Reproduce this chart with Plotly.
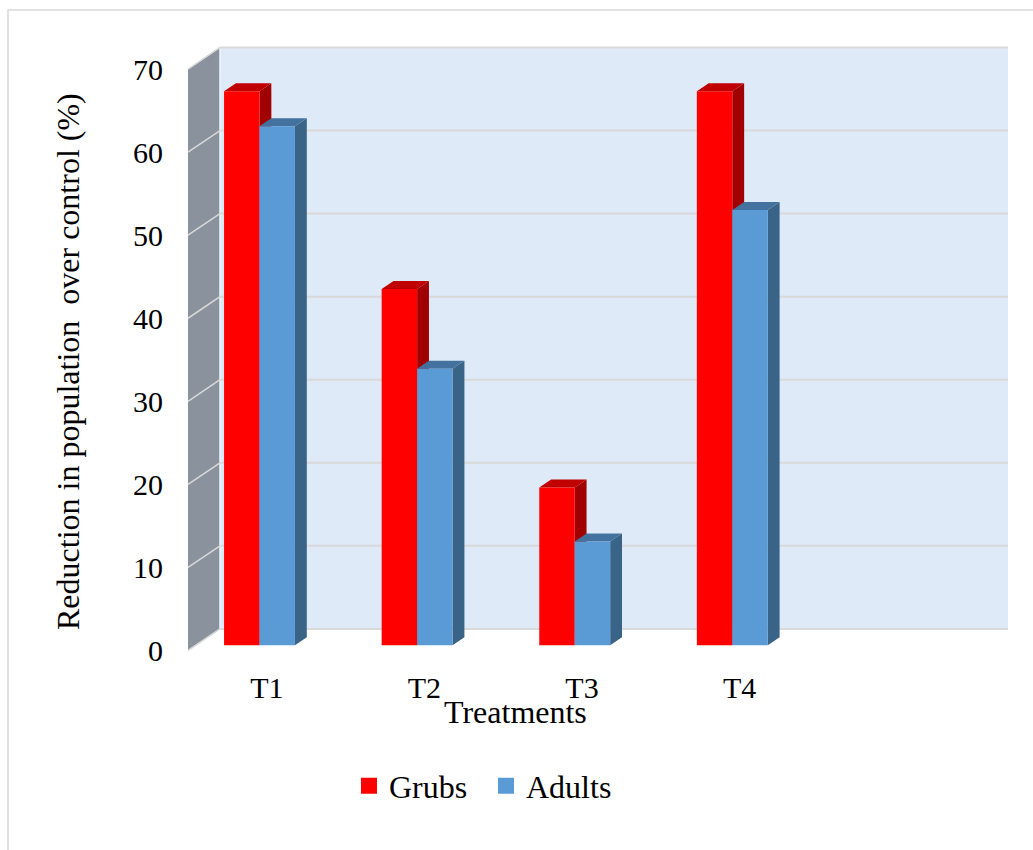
import plotly.graph_objects as go

# ---- data -------------------------------------------------------------
categories = ["T1", "T2", "T3", "T4"]
grubs = [66.7, 42.9, 19.0, 66.7]
adults = [62.5, 33.3, 12.5, 52.4]
y_ticks = [0, 10, 20, 30, 40, 50, 60, 70]

series = [
    ("Grubs", grubs, "#FF0000", "#C00000", "#A00000"),
    ("Adults", adults, "#5B9BD5", "#44729F", "#3A6388"),
]

# ---- pseudo-3D geometry (axis units) ----------------------------------
N_SLOTS = 5          # category slots along the floor (last one empty)
DX, DY = 0.203, 2.6  # wall depth offset (x in category units, y in value units)
D1, D2 = 0.24, 0.61  # front/back depth fraction of the bars
BAR_OFF, BAR_W = 0.18, 0.225
Y_TOP = 70

FONT = "Liberation Serif, Times New Roman, serif"
GRID = "#D9D9D9"

x_range = [0, N_SLOTS + DX]
y_range = [-0.3, Y_TOP + DY + 0.3]

W, H = 1033, 850
M_L, M_R = 188, 25
M_T, M_B = 45, 197

fig = go.Figure()

shapes = []
# side wall
shapes.append(dict(type="path", xref="x", yref="y", layer="below",
                   path=f"M 0,0 L {DX},{DY} L {DX},{Y_TOP + DY} L 0,{Y_TOP} Z",
                   fillcolor="#8A939D", line=dict(width=0)))
# back wall
shapes.append(dict(type="rect", xref="x", yref="y", layer="below",
                   x0=DX, x1=N_SLOTS + DX, y0=DY, y1=Y_TOP + DY,
                   fillcolor="#DEEAF7", line=dict(width=0)))
# wall edge between side and back wall
shapes.append(dict(type="line", xref="x", yref="y", layer="below",
                   x0=DX, x1=DX, y0=DY, y1=Y_TOP + DY,
                   line=dict(color="#EEF3FA", width=1.5)))
# gridlines on back wall and side wall
for v in y_ticks:
    shapes.append(dict(type="line", xref="x", yref="y", layer="below",
                       x0=DX, x1=N_SLOTS + DX, y0=v + DY, y1=v + DY,
                       line=dict(color=GRID, width=2)))
    shapes.append(dict(type="line", xref="x", yref="y", layer="below",
                       x0=0, x1=DX, y0=v, y1=v + DY,
                       line=dict(color=GRID, width=1.5)))

# bar side and top faces (front faces are the bar traces)
ddx, ddy = (D2 - D1) * DX, (D2 - D1) * DY
base = D1 * DY
for i in range(len(categories)):
    for s, (name, vals, c_front, c_top, c_side) in enumerate(series):
        xl = i + BAR_OFF + s * BAR_W + D1 * DX
        xr = xl + BAR_W
        top = base + vals[i]
        shapes.append(dict(type="path", xref="x", yref="y", layer="below",
                           path=(f"M {xr},{base} L {xr + ddx},{base + ddy} "
                                 f"L {xr + ddx},{top + ddy} L {xr},{top} Z"),
                           fillcolor=c_side, line=dict(width=0)))
        shapes.append(dict(type="path", xref="x", yref="y", layer="below",
                           path=(f"M {xl},{top} L {xr},{top} "
                                 f"L {xr + ddx},{top + ddy} L {xl + ddx},{top + ddy} Z"),
                           fillcolor=c_top, line=dict(width=0)))

# outer chart border
plot_w = W - M_L - M_R
plot_h = H - M_T - M_B
def px_x(p):
    return (p - M_L) / plot_w
def px_y(p):
    return (H - M_B - p) / plot_h

shapes.append(dict(type="rect", xref="paper", yref="paper", layer="below",
                   x0=px_x(8), x1=px_x(1060), y0=px_y(880), y1=px_y(10),
                   line=dict(color=GRID, width=1.5)))

# bar front faces
for s, (name, vals, c_front, c_top, c_side) in enumerate(series):
    xs = [i + BAR_OFF + s * BAR_W + D1 * DX + BAR_W / 2 for i in range(len(categories))]
    fig.add_trace(go.Bar(x=xs, y=vals, base=base, width=BAR_W, name=name,
                         marker=dict(color=c_front, line=dict(width=0)),
                         showlegend=False, legendgroup=name))
    fig.add_trace(go.Scatter(x=[None], y=[None], mode="markers", name=name,
                             legendgroup=name,
                             marker=dict(symbol="square", size=17, color=c_front,
                                         line=dict(width=0))))

fig.update_layout(
    width=W, height=H,
    margin=dict(l=M_L, r=M_R, t=M_T, b=M_B),
    paper_bgcolor="white", plot_bgcolor="rgba(0,0,0,0)",
    barmode="overlay",
    font=dict(family=FONT, size=32, color="black"),
    shapes=shapes,
    xaxis=dict(range=x_range, tickvals=[i + 0.5 for i in range(len(categories))],
               ticktext=categories, showgrid=False, zeroline=False, showline=False,
               ticks="", ticklabelstandoff=14, fixedrange=True,
               tickfont=dict(family=FONT, size=30)),
    yaxis=dict(range=y_range, tickvals=y_ticks, showgrid=False, zeroline=False,
               showline=False, ticks="", ticklabelstandoff=24, fixedrange=True,
               tickfont=dict(family=FONT, size=30)),
    legend=dict(orientation="h", x=px_x(349), xanchor="left",
                y=px_y(786), yanchor="middle", font=dict(family=FONT, size=32),
                entrywidth=92, entrywidthmode="pixels",
                itemsizing="trace", bgcolor="rgba(0,0,0,0)"),
    annotations=[
        dict(text="Treatments", xref="paper", yref="paper",
             x=px_x(515), y=px_y(712), xanchor="center", yanchor="middle",
             showarrow=False, font=dict(family=FONT, size=32)),
        dict(text="Reduction in population&nbsp; over control (%)", xref="paper", yref="paper",
             x=px_x(68), y=px_y(362), xanchor="center", yanchor="middle",
             textangle=-90, showarrow=False, font=dict(family=FONT, size=32)),
    ],
)

fig.write_html("out.html")
